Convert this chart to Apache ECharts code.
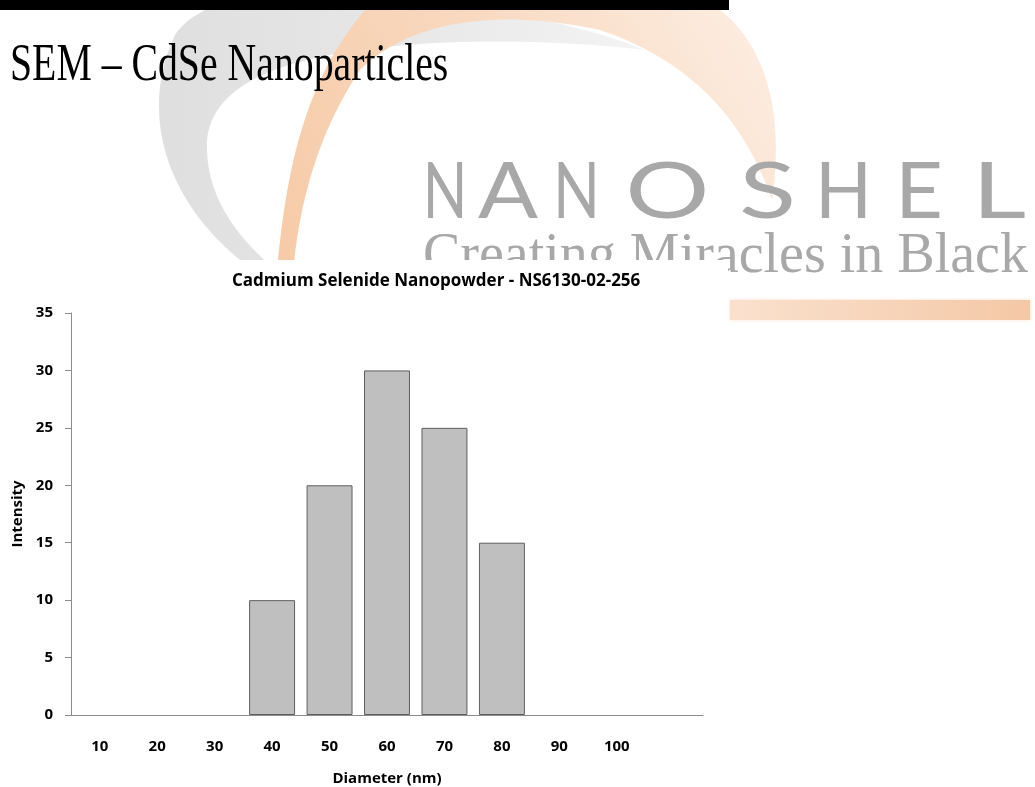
<!DOCTYPE html>
<html>
<head>
<meta charset="utf-8">
<title>SEM – CdSe Nanoparticles</title>
<style>
  html, body { margin: 0; padding: 0; background: #ffffff; }
  #chart { width: 1035px; height: 787px; }
</style>
<script src="https://cdn.jsdelivr.net/npm/echarts@6.0.0/dist/echarts.min.js"></script>
</head>
<body>
<div id="chart"></div>
<script>
// Particle size distribution (bar per diameter class)
const diameters = ['10', '20', '30', '40', '50', '60', '70', '80', '90', '100', ''];
const intensity = [0, 0, 0, 10, 20, 30, 25, 15, 0, 0];

// Value axis range
const yMin = 0;
const yMax = 35;
const yStep = 5;

const chartTitle = 'Cadmium Selenide Nanopowder - NS6130-02-256';
const xName = 'Diameter (nm)';
const yName = 'Intensity';
const slideTitle = 'SEM – CdSe Nanoparticles';
const brandName = 'NANOSHEL';
const brandTagline = 'Creating Miracles in Black';

const labelFont = {
  fontFamily: "'Open Sans', 'Noto Sans', sans-serif",
  fontWeight: 'bold',
  fontSize: 15,
  color: '#000000'
};

// ---- slide decoration (logo swooshes, heading, brand text) ----
const measureCtx = document.createElement('canvas').getContext('2d');
function textWidth(str, font) {
  measureCtx.font = font;
  return measureCtx.measureText(str).width;
}

const grayArc =
  'M 275 285 C 170 220, 135 120, 175 35 ' +
  'C 195 5, 240 -5, 300 -5 ' +
  'C 420 -5, 560 15, 645 50 ' +
  'C 540 38, 420 38, 330 55 ' +
  'C 250 70, 205 100, 207 150 ' +
  'C 208 200, 240 245, 295 285 Z';

const orangeArc =
  'M 276 285 C 285 170, 305 80, 365 10 ' +
  'C 420 -35, 640 -30, 720 10 ' +
  'C 765 45, 785 110, 772 200 ' +
  'C 745 120, 690 60, 600 30 ' +
  'C 500 8, 410 20, 360 70 ' +
  'C 320 130, 298 200, 292 285 Z';

echarts.graphic.registerShape('logoGrayArc', echarts.graphic.extendPath(grayArc, {}));
echarts.graphic.registerShape('logoOrangeArc', echarts.graphic.extendPath(orangeArc, {}));

const brandFont = '400 78px Lato, "Open Sans", sans-serif';
const brandSpans = [[423, 467], [478, 538], [553, 600], [613, 722], [738, 797], [815, 872], [895, 943], [968, 1030]];
const brandLetters = brandName.split('').map(function (ch, i) {
  const span = brandSpans[i];
  const w = textWidth(ch, brandFont) || 1;
  let s = (span[1] - span[0]) / w;
  s = Math.max(0.75, Math.min(1.35, s));
  return {
    type: 'text',
    z: -6,
    x: (span[0] + span[1]) / 2,
    y: 193,
    scaleX: s,
    style: {
      text: ch,
      font: brandFont,
      fill: '#a8a8a8',
      textAlign: 'center',
      textVerticalAlign: 'middle'
    }
  };
});

const decorations = [
  {
    type: 'logoGrayArc', z: -9,
    style: {
      fill: new echarts.graphic.LinearGradient(0, 0, 1, 0, [
        { offset: 0, color: '#dfdfdf' },
        { offset: 0.45, color: '#e6e6e6' },
        { offset: 1, color: '#f4f4f4' }
      ])
    }
  },
  {
    type: 'logoOrangeArc', z: -8,
    style: {
      fill: new echarts.graphic.LinearGradient(0, 1, 1, 0, [
        { offset: 0, color: '#f6caa6' },
        { offset: 0.45, color: '#f8d6bb' },
        { offset: 1, color: '#fdf0e6' }
      ])
    }
  },
  {
    type: 'rect', z: -7,
    shape: { x: 0, y: 0, width: 729, height: 10 },
    style: { fill: '#000000' }
  },
  {
    type: 'text', z: -6,
    x: 10, y: 66, scaleX: 0.75,
    style: {
      text: slideTitle,
      font: '53px "Liberation Serif", "Times New Roman", serif',
      fill: '#000000',
      textAlign: 'left',
      textVerticalAlign: 'middle'
    }
  }
].concat(brandLetters).concat([
  {
    type: 'text', z: -6,
    x: 423, y: 257,
    style: {
      text: brandTagline,
      font: '56px "Liberation Serif", "Times New Roman", serif',
      fill: '#a8a8a8',
      textAlign: 'left',
      textVerticalAlign: 'middle'
    }
  },
  {
    type: 'rect', z: -6,
    shape: { x: 730, y: 300, width: 300, height: 20 },
    style: {
      fill: new echarts.graphic.LinearGradient(0, 0, 1, 0, [
        { offset: 0, color: '#fae1ce' },
        { offset: 1, color: '#f4c8a6' }
      ]),
      shadowBlur: 3,
      shadowColor: 'rgba(244, 200, 166, 0.6)'
    }
  },
  // white panel behind the chart itself
  {
    type: 'rect', z: -1,
    shape: { x: 0, y: 260, width: 728, height: 527 },
    style: { fill: '#ffffff' }
  }
]);

// empty classes get no outline, so nothing shows on the baseline
const barData = intensity.map(function (v) {
  return v === 0 ? { value: v, itemStyle: { borderWidth: 0 } } : v;
});

const chart = echarts.init(document.getElementById('chart'), null, { renderer: 'canvas' });

chart.setOption({
  backgroundColor: '#ffffff',
  animation: false,
  title: {
    text: chartTitle,
    left: 232,
    top: 273,
    padding: 0,
    textStyle: {
      fontFamily: labelFont.fontFamily,
      fontWeight: 'bold',
      fontSize: 17,
      color: '#000000'
    }
  },
  graphic: { elements: decorations },
  grid: {
    left: 71,
    top: 313,
    width: 632,
    height: 402,
    containLabel: false,
    outerBoundsMode: 'none'
  },
  xAxis: {
    type: 'category',
    data: diameters,
    boundaryGap: true,
    name: xName,
    nameLocation: 'middle',
    nameGap: 56,
    nameTextStyle: labelFont,
    axisLine: { show: true, lineStyle: { color: '#8c8c8c', width: 1 } },
    axisTick: { show: false },
    axisLabel: Object.assign({ interval: 0, margin: 24 }, labelFont),
    splitLine: { show: false }
  },
  yAxis: {
    type: 'value',
    min: yMin,
    max: yMax,
    interval: yStep,
    name: yName,
    nameLocation: 'middle',
    nameGap: 44,
    nameTextStyle: labelFont,
    axisLine: { show: true, lineStyle: { color: '#8c8c8c', width: 1 } },
    axisTick: { show: true, inside: false, length: 6, lineStyle: { color: '#8c8c8c' } },
    axisLabel: Object.assign({ margin: 18 }, labelFont),
    splitLine: { show: false }
  },
  series: [{
    type: 'bar',
    data: barData,
    barCategoryGap: '20%',
    itemStyle: {
      color: '#bfbfbf',
      borderColor: '#5e5e5e',
      borderWidth: 1
    },
    emphasis: { disabled: true }
  }]
});
</script>
</body>
</html>
